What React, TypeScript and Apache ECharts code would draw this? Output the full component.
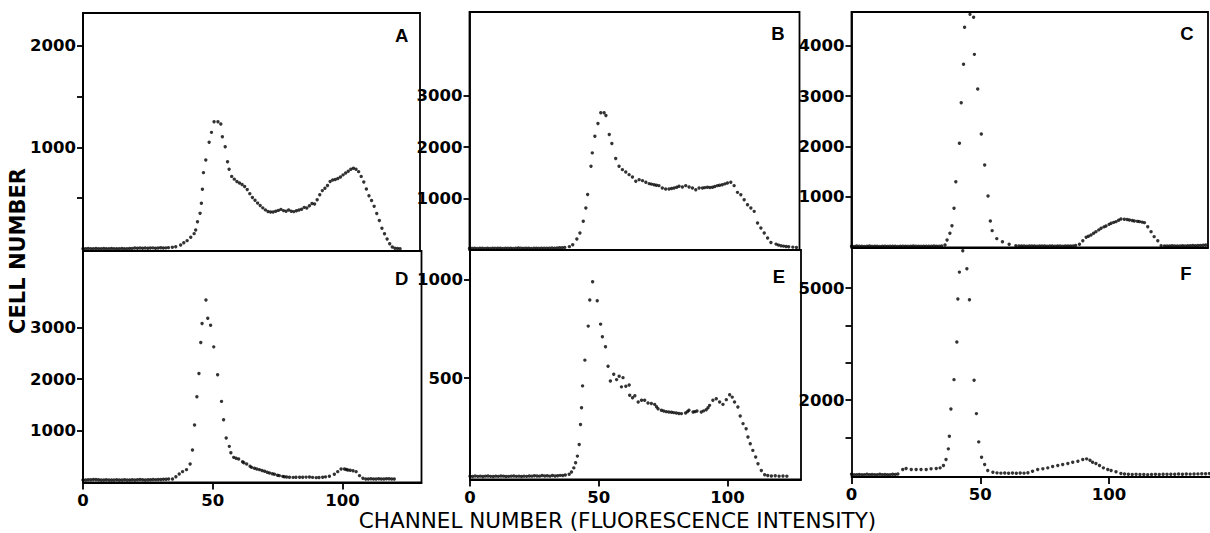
import React, { useEffect, useRef } from "react";
import * as echarts from "echarts";

// ---- data: [channel number, cell number] ----
const panelA: [number, number][] = [
  [0,3],[1,2],[2,4],[3,3],[4,2],[5,4],[6,3],[7,2],[8,4],[9,3],[10,2],[11,4],[12,3],[13,3],[14,2],[15,4],[16,3],[17,3],[18,4],[19,5],
  [20,10],[21,8],[22,9],[23,7],[24,10],[25,8],[26,9],[27,11],[28,8],[29,10],[30,12],[31,9],[32,11],[33,13],
  [34.5,16],[35.8,22],[37.7,39],[38.9,62],[40.2,82],[41.6,116],[42.9,151],[43.5,187],[44.2,269],[45.2,351],[45.7,450],
  [46.1,588],[46.5,752],[47.4,877],[48.7,1051],[49.6,1149],[50.6,1254],[52.1,1254],[53.2,1231],[53.8,1106],[54.9,1008],
  [55.8,860],[56.4,785],[57.4,715],[58.4,688],[59.4,664],[60.4,650],[61.4,636],[62.4,615],[63.4,585],[64.4,545],[65.4,508],
  [66.4,480],[67.4,452],[68.4,428],[69.4,405],[70.4,385],[71.4,370],[72.4,364],[73.4,365],[74.4,372],[75.4,380],[76.4,390],
  [77.4,378],[78.4,372],[79.4,384],[80.4,372],[81.4,368],[82.4,377],[83.4,384],[84.4,392],[85.4,410],[86.4,404],[87.4,425],
  [88.4,448],[89.4,444],[90.4,485],[91.4,535],[92.4,575],[93.4,598],[94.4,625],[95.4,665],[96.4,680],[97.4,685],[98.4,695],
  [99.4,710],[100.4,730],[101.4,748],[102.4,765],[103.4,785],[104.4,796],[105.4,785],[106.4,762],[107.4,715],[108.4,660],
  [109.4,590],[110.4,525],[111.4,478],[112.4,420],[113.4,350],[114.4,280],[115.4,205],[116.4,150],[117.4,98],[118.4,52],
  [119.4,20],[120.4,7],[121.4,4],[122.4,3]
];

const panelB: [number, number][] = [
  [0,40],[1,42],[2,45],[3,40],[4,43],[5,46],[6,41],[7,44],[8,40],[9,45],[10,42],[11,43],[12,46],[13,41],[14,44],[15,42],
  [16,45],[17,40],[18,43],[19,47],[20,44],[21,42],[22,45],[23,43],[24,41],[25,46],[26,44],[27,42],[28,45],[29,43],[30,46],
  [31,44],[32,48],[33,45],[34,50],[35,52],[36,55],[37,60],
  [38.8,75],[40.1,112],[41.7,223],[42.9,340],[44.2,565],[45.2,824],[45.9,1083],[47.2,1630],[47.7,1890],[48.7,2213],
  [49.9,2459],[51.0,2666],[52.3,2666],[53.0,2614],[54.3,2245],[55.3,2071],[56.8,1780],[58.1,1630],[59.4,1566],[60.7,1521],
  [62.0,1469],[63.3,1424],[64.6,1340],[65.9,1372],[67.2,1353],[68.5,1320],[69.8,1295],[70.7,1285],[71.7,1275],[72.6,1265],
  [73.6,1256],[74.9,1211],[76.2,1191],[77.5,1191],[78.5,1200],[79.5,1211],[80.5,1225],[81.4,1243],[82.7,1230],[84.0,1256],
  [85.3,1230],[86.6,1211],[87.9,1178],[89.2,1211],[90.5,1211],[91.4,1218],[92.4,1224],[93.4,1220],[94.4,1224],[95.3,1240],
  [96.3,1256],[97.2,1265],[98.2,1275],[99.2,1290],[100.2,1308],[101.5,1320],[102.8,1256],[104.1,1126],[105.4,1081],
  [106.7,984],[108.0,887],[109.3,822],[110.6,758],[111.9,532],[113.2,435],[114.5,338],[115.8,241],[117.1,157],[119.1,124],
  [120,105],[121.0,92],[122,85],[123.0,79],[124,72],[125.6,66],[127,60]
];

const panelC: [number, number][] = [
  [0,15],[1,12],[2,18],[3,14],[4,16],[5,12],[6,15],[7,18],[8,13],[9,16],[10,14],[11,12],[12,15],[13,17],[14,13],[15,16],
  [16,14],[17,15],[18,12],[19,16],[20,14],[21,17],[22,13],[23,15],[24,18],[25,14],[26,16],[27,13],[28,15],[29,17],[30,14],
  [31,16],[32,18],[33,15],[34,17],[35,20],
  [36.3,40],[37.1,139],[38.2,272],[39.0,424],[39.8,769],[40.5,1299],[41.9,2061],[42.6,2869],[43.5,3632],[43.9,4367],
  [46.0,4625],[47.4,4566],[47.7,3830],[49.0,3141],[50.4,2246],[51.7,1630],[53.0,1014],[53.9,517],[54.6,325],[56.4,166],
  [58.6,106],[61.2,53],[63.8,27],
  [65,22],[66,18],[67,20],[68,15],[69,22],[70,18],[71,20],[72,16],[73,22],[74,18],[75,20],[76,15],[77,18],[78,22],[79,16],
  [80,20],[81,18],[82,15],[83,20],[84,18],[85,22],[86,20],[87,30],
  [88.5,53],[89.8,126],[91.1,192],[92,215],[93.0,239],[94,275],[94.9,305],[96,340],[96.9,371],[98,400],[98.8,418],[100,450],
  [100.8,471],[101.8,490],[102.7,504],[103.7,530],[104.6,557],[105.9,550],[107,545],[107.9,537],[109,525],[109.8,517],
  [111,510],[111.8,504],[112.8,495],[113.7,484],[115.0,404],[116.3,305],[117.5,206],[118.9,126],[120.2,27],
  [121.5,20],[122.5,22],[123.5,18],[124.5,25],[125.5,20],[126.5,22],[127.5,18],[128.5,24],[129.5,22],[130.5,26],[131.5,24],
  [132.5,28],[133.5,26],[134.5,30],[135.5,32],[136.5,35],[137.5,38]
];

const panelD: [number, number][] = [
  [0,30],[1,28],[2,32],[3,35],[4,40],[5,38],[6,33],[7,30],[8,28],[9,32],[10,30],[11,28],[12,30],[13,32],[14,28],[15,30],
  [16,33],[17,30],[18,28],[19,32],[20,30],[21,35],[22,38],[23,33],[24,30],[25,32],[26,35],[27,38],[28,36],[29,40],[30,38],
  [31,42],[32,45],[33,48],
  [34.5,49],[35.8,94],[37.1,146],[38.4,192],[39.9,231],[41.3,341],[42.2,614],[43.0,1102],[43.9,1654],[44.7,2110],
  [45.4,2714],[45.9,3085],[47.4,3545],[48.1,3188],[49.2,3052],[50.4,2629],[51.9,2083],[53.4,1564],[54.2,1205],[55.2,848],
  [56.4,686],[57,560],[58.1,471],[59,455],[60.0,439],[61.5,387],[62,365],[63.1,341],[64.4,296],[65,275],[66.1,257],[67,245],
  [68.0,231],[69,215],[70.0,198],[71,180],[71.9,166],[73,152],[73.8,140],[75,122],[75.7,114],[77,100],[77.6,94],[78.5,88],
  [79.6,81],[81,80],[82.1,81],[83.5,82],[84.7,81],[86,85],[87.3,88],[88.5,80],[89.9,75],[91,78],[92.4,81],[93.5,90],
  [95.0,101],[96.9,140],[98.2,192],[99.5,244],[100.8,244],[101.5,235],[102.1,224],[103,218],[104.1,211],[105.3,192],
  [106.6,114],[107.9,62],
  [109,50],[110,48],[111,52],[112,50],[113,47],[114,53],[115,50],[116,48],[117,52],[118,55],[119,50],[120,48]
];

const panelE: [number, number][] = [
  [0,2],[1,0],[2,3],[3,1],[4,2],[5,0],[6,2],[7,3],[8,1],[9,0],[10,2],[11,1],[12,3],[13,2],[14,0],[15,1],[16,2],[17,3],
  [18,1],[19,2],[20,0],[21,2],[22,1],[23,3],[24,2],[25,4],[26,3],[27,2],[28,5],[29,3],[30,4],[31,2],[32,5],[33,3],[34,4],
  [35,6],[36,5],[37,8],
  [38.5,12],[39.4,23],[40.3,44],[41.0,70],[41.7,104],[42.4,163],[42.9,265],[43.3,350],[43.7,461],[44.6,592],[45.9,765],
  [46.5,898],[47.6,991],[49.4,894],[50.7,775],[51.4,711],[52.6,660],[53.6,561],[54.5,486],[55.8,520],[56.9,493],[57.9,510],
  [58.8,456],[59.4,503],[60.5,459],[61.8,466],[62.0,413],[63.1,401],[64.0,411],[65.3,379],[66.6,388],[67.8,388],[69.1,374],
  [70.4,371],[71.7,367],[72.4,355],[73.0,345],[74.3,337],[75.2,333],[76.2,330],[77.2,328],[78.2,327],[79.1,325],[80.1,323],
  [81.1,321],[82.1,320],[83.7,323],[84.4,330],[85.0,337],[86.6,328],[87.3,330],[88.1,333],[89.8,328],[90.7,334],[91.7,340],
  [92.4,350],[93.0,362],[94.3,388],[95.6,396],[96.9,379],[98.2,367],[99.5,391],[100.8,416],[101.8,404],[102.7,379],
  [104.0,354],[104.9,308],[106.0,269],[107.2,243],[107.9,201],[108.8,167],[109.8,133],[110.9,99],[111.8,65],[113.1,31],
  [114.4,9],[115.6,5],[117,3],[118.5,4],[120,2],[121.5,3],[123,2]
];

const panelF: [number, number][] = [
  [0,20],[1,5],[2,10],[3,15],[4,5],[5,10],[6,20],[7,5],[8,15],[9,10],[10,5],[11,20],[12,10],[13,15],[14,5],[15,10],
  [16,20],[17,15],[18,25],
  [19.9,147],[21.2,174],[23.2,147],[25.1,147],[27.0,147],[29.0,147],[30.9,165],[32.9,174],[34.4,191],[35.7,254],
  [36.7,414],[37.6,699],[38.0,1037],[38.6,1767],[39.8,2550],[40.9,3556],[41.3,4704],[41.9,5425],[43.2,5994],[44.8,5514],
  [45.8,4686],[47.6,2532],[48.5,1642],[49.4,886],[50.5,477],[51.7,281],[52.9,121],[54.9,76],
  [56.5,58],[58,50],[59.5,55],[61,45],[62.5,52],[64,48],[65.5,55],[67,50],[68.5,60],
  [70.3,103],[72.3,147],[74.3,165],[76.2,191],[78.1,227],[80.1,254],[82.0,281],[84.0,307],[85.9,343],[87.9,370],
  [89.8,414],[91.3,432],[92.6,397],[93.6,343],[94.9,307],[96.3,254],[97.8,191],[99.5,147],[100.8,121],[102.7,85],[104.6,40],
  [106,25],[107.5,20],[109,15],[110.5,18],[112,12],[113.5,15],[115,10],[116.5,14],[118,18],[119.5,15],[121,20],[122.5,18],
  [124,22],[125.5,20],[127,25],[128.5,22],[130,26],[131.5,24],[133,28],[134.5,30],[136,32],[137.5,35],[139,38]
];

// tick marks and labelled ticks on each panel's y axis
const yTicksA = [500, 1000, 1500, 2000];
const yLabelsA = [1000, 2000];
const yTicksB = [1000, 2000, 3000];
const yLabelsB = [1000, 2000, 3000];
const yTicksC = [1000, 2000, 3000, 4000];
const yLabelsC = [1000, 2000, 3000, 4000];
const yTicksD = [1000, 2000, 3000];
const yLabelsD = [1000, 2000, 3000];
const yTicksE = [500, 1000];
const yLabelsE = [500, 1000];
const yTicksF = [1000, 2000, 3000, 4000, 5000];
const yLabelsF = [2000, 5000];
const xTicks = [0, 50, 100];

const panelLetters = ["A", "B", "C", "D", "E", "F"];
const yTitle = "CELL NUMBER";
const xTitle = "CHANNEL NUMBER (FLUORESCENCE INTENSITY)";

export default function App() {
  const ref = useRef<HTMLDivElement>(null);

  useEffect(() => {
    if (!ref.current) return;
    const chart = echarts.init(ref.current, null, { renderer: "svg" });
    const ink = "#000";
    const lineStyle = { color: ink, width: 1.8 };
    const tickFont = {
      fontFamily: "DejaVu Sans",
      fontWeight: "bold" as const,
      fontSize: 16.5,
      color: ink,
      formatter: (v: number) => String(Math.round(v)),
    };

    const panels = [
      { data: panelA, grid: { left: 83, top: 13, width: 337, height: 238 }, box: true, bottom: false,
        x: [0, 130.1], y: [-20, 2325], yt: yTicksA, yl: yLabelsA, letter: [401.7, 35] },
      { data: panelB, grid: { left: 469.5, top: 12, width: 330, height: 238 }, box: true, bottom: false,
        x: [0, 128.2], y: [10, 4618], yt: yTicksB, yl: yLabelsB, letter: [778, 33.5] },
      { data: panelC, grid: { left: 851.5, top: 12, width: 356.5, height: 235.5 }, box: true, bottom: false,
        x: [0, 138.4], y: [-10, 4672], yt: yTicksC, yl: yLabelsC, letter: [1187, 33] },
      { data: panelD, grid: { left: 83, top: 251, width: 338.5, height: 231.5 }, box: true, bottom: true,
        x: [0, 130.5], y: [-20, 4501], yt: yTicksD, yl: yLabelsD, letter: [401.7, 278] },
      { data: panelE, grid: { left: 470, top: 250, width: 331, height: 229.5 }, box: true, bottom: true,
        x: [0, 128.5], y: [-15, 1152], yt: yTicksE, yl: yLabelsE, letter: [779, 276.7] },
      { data: panelF, grid: { left: 851.5, top: 247.5, width: 358.5, height: 229.5 }, box: false, bottom: true,
        x: [0, 139.2], y: [-53, 6083], yt: yTicksF, yl: yLabelsF, letter: [1186, 273.3] },
    ];

    const option: any = {
      animation: false,
      backgroundColor: "#fff",
      grid: panels.map((p) => ({
        ...p.grid,
        containLabel: false,
        outerBoundsMode: "none",
        show: p.box,
        borderColor: ink,
        borderWidth: 1.8,
        backgroundColor: "transparent",
      })),
      xAxis: panels.map((p, i) => ({
        gridIndex: i,
        type: "value",
        min: p.x[0],
        max: p.x[1],
        axisLine: { show: true, onZero: false, lineStyle },
        axisTick: { show: p.bottom, length: 7, customValues: xTicks, lineStyle },
        axisLabel: { show: p.bottom, customValues: xTicks, margin: 9, ...tickFont },
        splitLine: { show: false },
      })),
      yAxis: panels.map((p, i) => ({
        gridIndex: i,
        type: "value",
        min: p.y[0],
        max: p.y[1],
        axisLine: { show: true, onZero: false, lineStyle },
        axisTick: { show: true, length: 6, customValues: p.yt, lineStyle },
        axisLabel: { customValues: p.yl, margin: 7, ...tickFont },
        splitLine: { show: false },
      })),
      series: panels.map((p, i) => ({
        type: "scatter",
        xAxisIndex: i,
        yAxisIndex: i,
        data: p.data,
        symbol: "circle",
        symbolSize: 3.4,
        itemStyle: { color: ink },
        silent: true,
      })),
      graphic: [
        ...panels.map((p, i) => ({
          type: "text",
          x: p.letter[0],
          y: p.letter[1],
          style: {
            text: panelLetters[i],
            fontFamily: "Liberation Sans",
            fontWeight: "bold",
            fontSize: 18.5,
            fill: ink,
            align: "center",
            verticalAlign: "middle",
          },
        })),
        {
          type: "text",
          x: 18,
          y: 251,
          rotation: Math.PI / 2,
          style: {
            text: yTitle,
            fontFamily: "DejaVu Sans",
            fontWeight: "bold",
            fontSize: 21,
            fill: ink,
            align: "center",
            verticalAlign: "middle",
          },
        },
        {
          type: "text",
          x: 617.5,
          y: 520,
          style: {
            text: xTitle,
            fontFamily: "DejaVu Sans",
            fontSize: 21.5,
            fill: ink,
            align: "center",
            verticalAlign: "middle",
          },
        },
      ],
    };

    chart.setOption(option);
    return () => chart.dispose();
  }, []);

  return (
    <div
      ref={ref}
      style={{ position: "fixed", left: 0, top: 0, width: 1210, height: 533, background: "#fff" }}
    />
  );
}
